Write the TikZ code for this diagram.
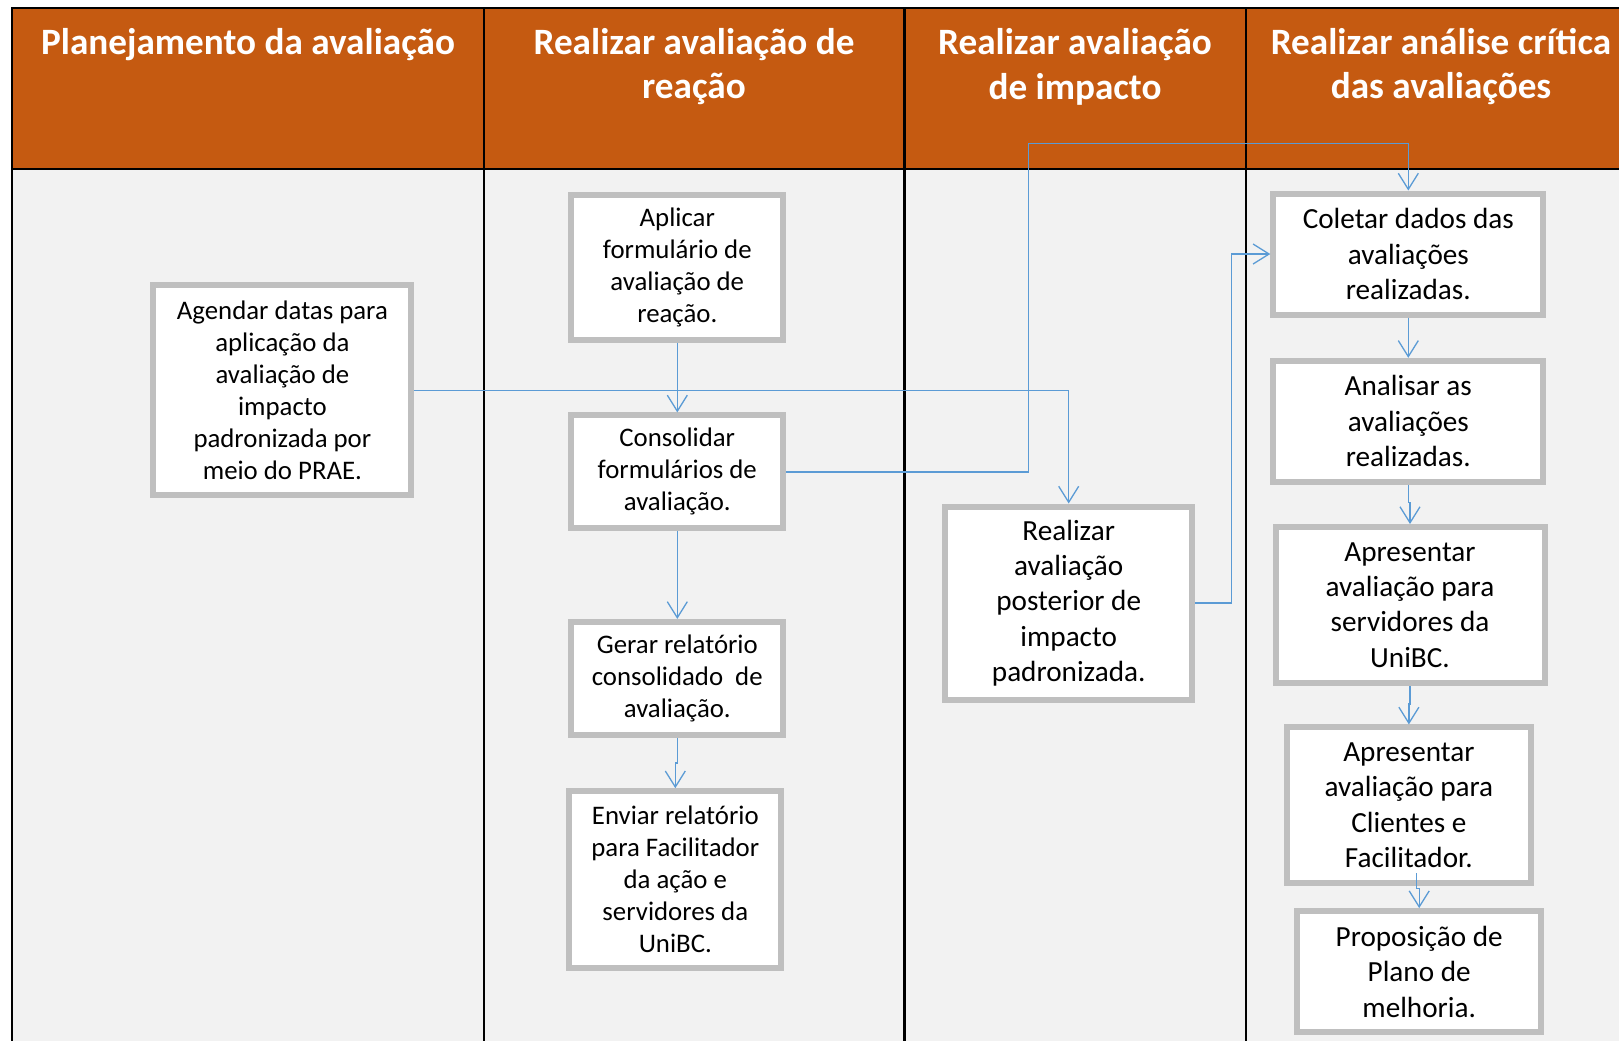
\documentclass[tikz,border=0pt]{standalone}
\usepackage{fontspec}
\setmainfont{Carlito}
\usetikzlibrary{positioning, arrows.meta}
\definecolor{hdrorange}{HTML}{C55A11}
\definecolor{lanegray}{HTML}{F2F2F2}
\definecolor{boxgray}{HTML}{BFBFBF}
\definecolor{flowblue}{HTML}{5B9BD5}

\begin{document}
\begin{tikzpicture}[
        x=0.5pt, y=-0.5pt,
        header/.style={font=\bfseries\fontsize{18.6}{22.2}\selectfont, text=white,
                       align=center, inner sep=0pt},
        task/.style={draw=boxgray, line width=3pt, fill=white, align=center,
                     inner sep=0pt, font=\fontsize{13.4}{16}\selectfont},
        taskr/.style={task, font=\fontsize{14.6}{17.7}\selectfont},
        arrow/.style={draw=flowblue, line width=0.65pt,
                      -{Straight Barb[length=8pt, width=10pt]}},
        rule/.style={line width=1.2pt},
    ]
    \useasboundingbox (0,0) rectangle (1619,1041);

    % swimlanes
    \fill[hdrorange] (12,8) rectangle (1619,169);
    \fill[lanegray] (12,169) rectangle (1619,1041);
    \draw[rule] (1619,8) -- (12,8) -- (12,1041);
    \draw[rule] (12,169) -- (1619,169);
    \foreach \x in {484, 904.5, 1246}
        \draw[rule] (\x,8) -- (\x,1041);

    \node[header] (h1) at (248,44.5) {Planejamento da avaliação};
    \node[header] (h2) at (694,66.7) {Realizar avaliação de\\reação};
    \node[header] (h3) at (1075,66.7) {Realizar avaliação\\de impacto};
    \node[header] (h4) at (1441,66.7) {Realizar análise crítica\\das avaliações};

    % tasks
    \node[task, minimum width=129pt, minimum height=105pt] (agendar) at (282.4,390.3)
        {Agendar datas para\\aplicação da\\avaliação de\\impacto\\padronizada por\\meio do PRAE.};

    \node[task, minimum width=106pt, minimum height=72.5pt] (aplicar) at (677.3,267)
        {Aplicar\\formulário de\\avaliação de\\reação.};
    \node[task, minimum width=106pt, minimum height=56.5pt] (consol) at (677.3,471.9)
        {Consolidar\\formulários de\\avaliação.};
    \node[task, minimum width=106pt, minimum height=56.5pt] (gerar) at (677.3,678.4)
        {Gerar relatório\\consolidado\ \ de\\avaliação.};
    \node[task, minimum width=106pt, minimum height=88.5pt] (enviar) at (675.3,879.7)
        {Enviar relatório\\para Facilitador\\da ação e\\servidores da\\UniBC.};

    \node[taskr, minimum width=123.5pt, minimum height=96.5pt] (posterior) at (1068.7,603)
        {Realizar\\avaliação\\posterior de\\impacto\\padronizada.};

    \node[taskr, minimum width=135pt, minimum height=60.5pt] (coletar) at (1408.3,254)
        {Coletar dados das\\avaliações\\realizadas.};
    \node[taskr, minimum width=135pt, minimum height=60.5pt] (analisar) at (1408.3,421.3)
        {Analisar as\\avaliações\\realizadas.};
    \node[taskr, minimum width=134.5pt, minimum height=78pt] (apserv) at (1410,605)
        {Apresentar\\avaliação para\\servidores da\\UniBC.};
    \node[taskr, minimum width=122pt, minimum height=78pt] (apcli) at (1408.9,805.4)
        {Apresentar\\avaliação para\\Clientes e\\Facilitador.};
    \node[taskr, minimum width=122pt, minimum height=60.5pt] (propos) at (1419.2,971.6)
        {Proposição de\\Plano de\\melhoria.};

    \coordinate (up) at (1028.4,143.5);
    \coordinate (jog) at (1231.8,254);

    % flow
    \draw[arrow] (aplicar) -- (consol);
    \draw[arrow] (agendar.east) -| (posterior.north);
    \draw[arrow] (consol.east) -| (up) -| (coletar.north);
    \draw[arrow] (consol) -- (gerar);
    \draw[arrow] (gerar.south) -- ++(0,25) -| (enviar.north);
    \draw[arrow] (posterior.east) -| (jog) -- (coletar.west);
    \draw[arrow] (coletar) -- (analisar);
    \draw[arrow] (analisar.south) -- ++(0,18) -| (apserv.north);
    \draw[arrow] (apserv.south) -- ++(0,18) -| (apcli.north);
    \draw[arrow] ([xshift=3.9pt, yshift=6.5pt]apcli.south) -- ++(0,15) -| (propos.north);
\end{tikzpicture}
\end{document}
